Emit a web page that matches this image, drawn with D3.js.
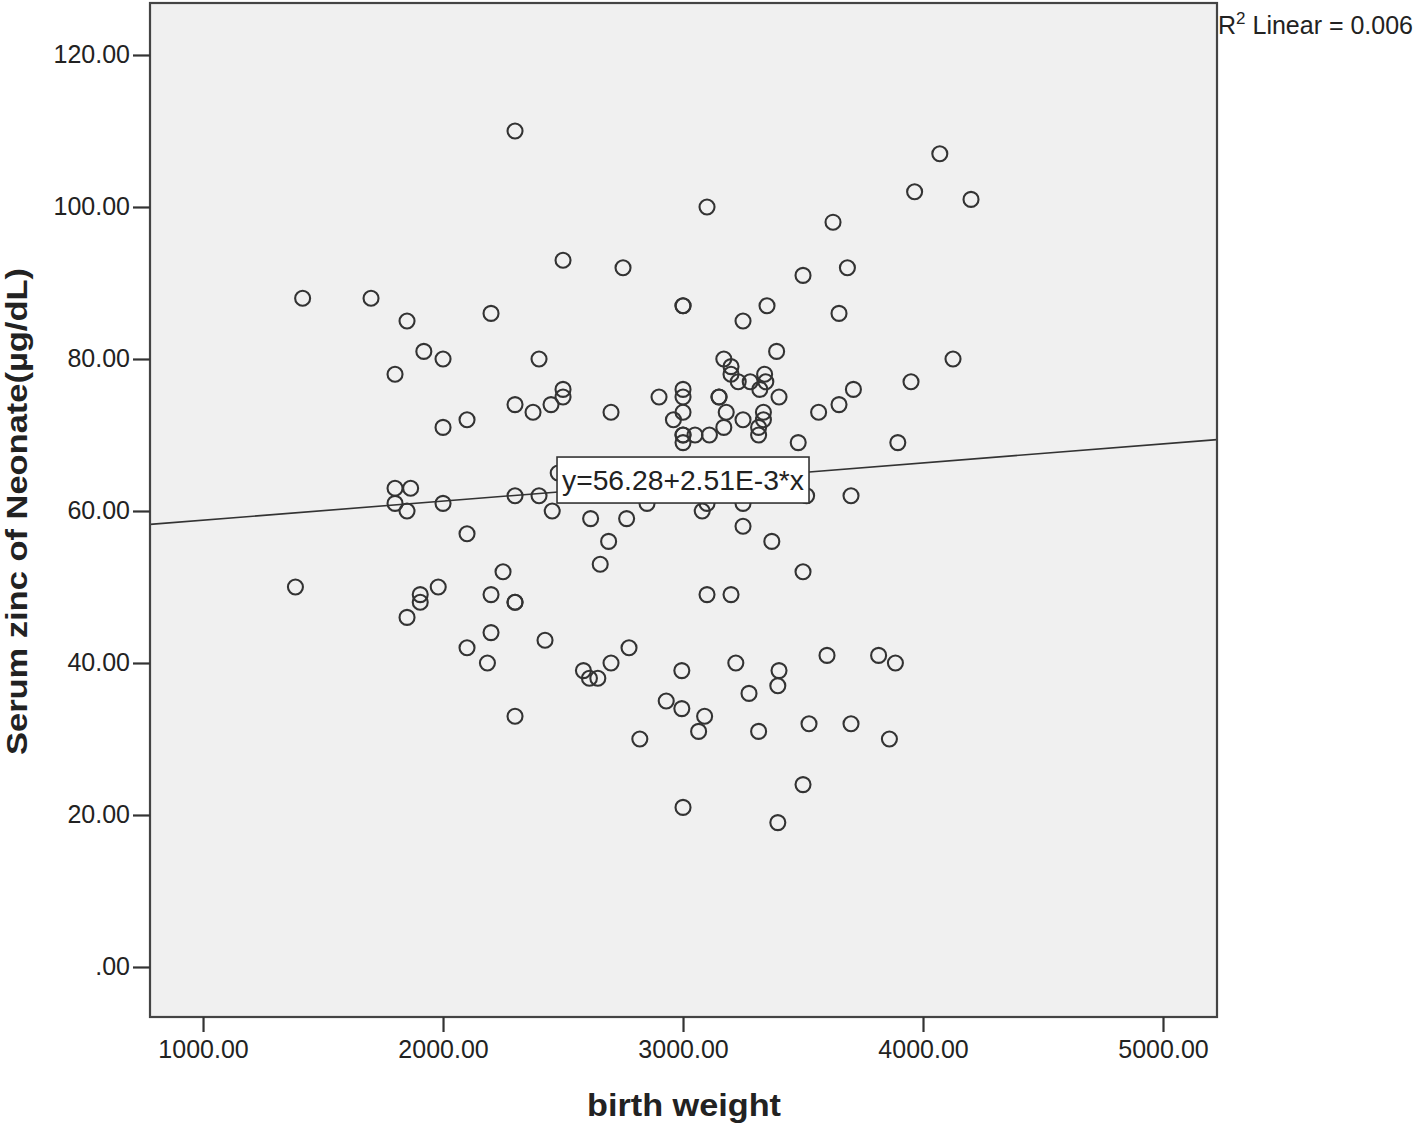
<!DOCTYPE html>
<html>
<head>
<meta charset="utf-8">
<script src="https://cdn.jsdelivr.net/npm/d3@7"></script>
<style>
  body { margin: 0; background: #fff; }
  text { font-family: "Liberation Sans", Arial, sans-serif; fill: #222; }
</style>
</head>
<body>
<script>
// birth weight (g) and neonatal serum zinc (µg/dL)
const birthWeight = [
  2300, 4070, 3965, 4200, 3100, 3625, 2500, 2750, 3685, 3500,
  1415, 1700, 3000, 3000, 3350, 2200, 3650, 1850, 3250, 1920,
  3390, 2000, 2400, 3170, 4125, 3200, 1800, 3200, 3340, 3230,
  3280, 3950, 3345, 3320, 2500, 3000, 3710, 2500, 2900, 3000,
  3150, 3150, 3400, 2300, 2450, 3650, 2375, 2700, 3000, 3180,
  3335, 3565, 2100, 2960, 3250, 3335, 2000, 3170, 3315, 3000,
  3000, 3050, 3110, 3315, 3000, 3480, 3895,
  2480, 1800, 1865, 1800, 2000, 2300, 2400, 3515, 3700, 1850,
  2455, 2615, 2765, 2850, 3080, 3100, 3250, 3250, 2100, 2690,
  3370, 2655, 2250, 3500, 1385, 1980, 1905, 2200, 3100, 3200,
  1905, 2300, 2300, 1850, 2200, 2425, 2100, 2775, 3600, 3815,
  2185, 2700, 3220, 3885, 2585, 2995, 3400, 2610, 2645, 3395,
  3275, 2930, 2995, 2300, 3090, 3525, 3700, 3065, 3315, 2820,
  3860, 3500, 3000, 3395
];
const serumZinc = [
  110, 107, 102, 101, 100, 98, 93, 92, 92, 91,
  88, 88, 87, 87, 87, 86, 86, 85, 85, 81,
  81, 80, 80, 80, 80, 79, 78, 78, 78, 77,
  77, 77, 77, 76, 76, 76, 76, 75, 75, 75,
  75, 75, 75, 74, 74, 74, 73, 73, 73, 73,
  73, 73, 72, 72, 72, 72, 71, 71, 71, 70,
  70, 70, 70, 70, 69, 69, 69,
  65, 63, 63, 61, 61, 62, 62, 62, 62, 60,
  60, 59, 59, 61, 60, 61, 61, 58, 57, 56,
  56, 53, 52, 52, 50, 50, 49, 49, 49, 49,
  48, 48, 48, 46, 44, 43, 42, 42, 41, 41,
  40, 40, 40, 40, 39, 39, 39, 38, 38, 37,
  36, 35, 34, 33, 33, 32, 32, 31, 31, 30,
  30, 24, 21, 19
];

const xTicks = [1000, 2000, 3000, 4000, 5000];
const yTicks = [0, 20, 40, 60, 80, 100, 120];

// fit line from the picture
const intercept = 56.28;
const slope = 2.51e-3;
const rSquared = "0.006";

const W = 1418, H = 1127;
const plotLeft = 150, plotRight = 1217, plotTop = 3, plotBottom = 1017;

const svg = d3.select("body").append("svg")
    .attr("width", W)
    .attr("height", H);

const x = d3.scaleLinear()
    .domain([779, 5225])
    .range([plotLeft, plotRight]);

const y = d3.scaleLinear()
    .domain([-6.58, 126.84])
    .range([plotBottom, plotTop]);

// plot background
svg.append("rect")
    .attr("x", plotLeft)
    .attr("y", plotTop)
    .attr("width", plotRight - plotLeft)
    .attr("height", plotBottom - plotTop)
    .attr("fill", "#f0f0f0");

// points
const points = birthWeight.map((d, i) => ({bw: d, zn: serumZinc[i]}));

svg.append("g")
    .selectAll("circle")
    .data(points)
    .enter()
    .append("circle")
    .attr("cx", d => x(d.bw))
    .attr("cy", d => y(d.zn))
    .attr("r", 7.5)
    .attr("fill", "none")
    .attr("stroke", "#333")
    .attr("stroke-width", 2.1);

// regression line
const [x0, x1] = x.domain();
svg.append("line")
    .attr("x1", x(x0))
    .attr("y1", y(intercept + slope * x0))
    .attr("x2", x(x1))
    .attr("y2", y(intercept + slope * x1))
    .attr("stroke", "#333")
    .attr("stroke-width", 1.6);

// equation label, centred on the line at x = 3000
const labX = x(3000), labY = y(intercept + slope * 3000) - 2;
svg.append("rect")
    .attr("x", labX - 126)
    .attr("y", labY - 23)
    .attr("width", 252)
    .attr("height", 46)
    .attr("fill", "#fff")
    .attr("stroke", "#333")
    .attr("stroke-width", 1.6);

svg.append("text")
    .attr("x", labX)
    .attr("y", labY + 10)
    .attr("text-anchor", "middle")
    .style("font-size", "28px")
    .attr("textLength", 242)
    .attr("lengthAdjust", "spacingAndGlyphs")
    .text(`y=${intercept}+${(slope * 1000).toFixed(2)}E-3*x`);

// frame
svg.append("rect")
    .attr("x", plotLeft)
    .attr("y", plotTop)
    .attr("width", plotRight - plotLeft)
    .attr("height", plotBottom - plotTop)
    .attr("fill", "none")
    .attr("stroke", "#444")
    .attr("stroke-width", 2.2);

// axes
const yAxis = svg.append("g")
    .attr("transform", `translate(${plotLeft},0)`)
    .call(d3.axisLeft(y)
        .tickValues(yTicks)
        .tickSize(17)
        .tickPadding(3)
        .tickFormat(d => d === 0 ? ".00" : d.toFixed(2)));

const xAxis = svg.append("g")
    .attr("transform", `translate(0,${plotBottom})`)
    .call(d3.axisBottom(x)
        .tickValues(xTicks)
        .tickSize(15)
        .tickPadding(8)
        .tickFormat(d => d.toFixed(2)));

[xAxis, yAxis].forEach(g => {
    g.select(".domain").remove();
    g.selectAll(".tick line").attr("stroke", "#333").attr("stroke-width", 2.2);
    g.selectAll(".tick text")
        .style("font-size", "25px")
        .style("font-family", "'Liberation Sans', Arial, sans-serif")
        .attr("fill", "#222");
});

// axis titles
svg.append("text")
    .attr("x", (587 + 781) / 2)
    .attr("y", 1116)
    .attr("text-anchor", "middle")
    .style("font-size", "31px")
    .style("font-weight", "bold")
    .attr("textLength", 194)
    .attr("lengthAdjust", "spacingAndGlyphs")
    .text("birth weight");

svg.append("text")
    .attr("transform", `translate(27,${(268 + 755) / 2}) rotate(-90)`)
    .attr("text-anchor", "middle")
    .style("font-size", "30px")
    .style("font-weight", "bold")
    .attr("textLength", 487)
    .attr("lengthAdjust", "spacingAndGlyphs")
    .text("Serum zinc of Neonate(µg/dL)");

// R squared note
const r2 = svg.append("text")
    .attr("x", 1218)
    .attr("y", 34)
    .style("font-size", "25px");
r2.append("tspan").text("R");
r2.append("tspan").attr("dy", -10).style("font-size", "17px").text("2");
r2.append("tspan").attr("dy", 10).text(` Linear = ${rSquared}`);
</script>
</body>
</html>
